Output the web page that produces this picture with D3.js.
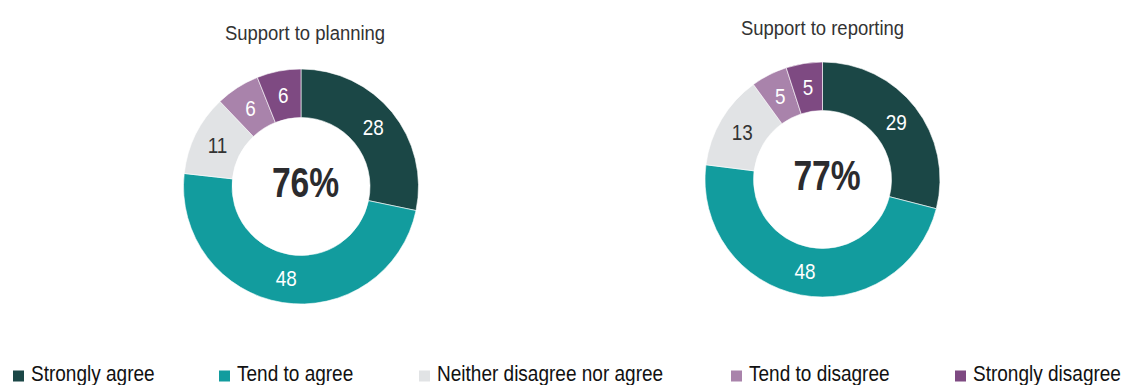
<!DOCTYPE html>
<html>
<head>
<meta charset="utf-8">
<script src="https://cdn.jsdelivr.net/npm/d3@7"></script>
<style>
  html, body { margin: 0; padding: 0; background: #fff; }
  svg text { font-family: "Liberation Sans Narrow", "Arial Narrow", "Liberation Sans", Arial, sans-serif; }
</style>
</head>
<body>
<svg id="chart" width="1121" height="385"></svg>
<script>
// Survey response categories, in drawing order (clockwise from 12 o'clock)
const categories = ["Strongly agree", "Tend to agree", "Neither disagree nor agree", "Tend to disagree", "Strongly disagree"];
const colors = ["#1b4746", "#129c9e", "#e1e3e5", "#a983ab", "#7e4a82"];
const labelColors = ["#ffffff", "#ffffff", "#333333", "#ffffff", "#ffffff"];

// Response shares (%) for each question
const planningValues = [28, 48, 11, 6, 6];
const reportingValues = [29, 48, 13, 5, 5];

const titles = ["Support to planning", "Support to reporting"];
const centerLabels = ["76%", "77%"];

const donuts = [
  { title: titles[0], values: planningValues, center: centerLabels[0], cx: 301, cy: 186.5, titleX: 305, titleY: 40 },
  { title: titles[1], values: reportingValues, center: centerLabels[1], cx: 822.5, cy: 179.5, titleX: 822.5, titleY: 34.5 }
];

const svg = d3.select("#chart");
const outerR = 117.5;
const innerR = 69;

// condensed look: squeeze glyphs horizontally around their anchor point
const squeeze = (x, y, sx) => `translate(${x},${y}) scale(${sx},1)`;

const pie = d3.pie().sort(null).value(d => d);
const arc = d3.arc().innerRadius(innerR).outerRadius(outerR);
const color = d3.scaleOrdinal().domain(categories).range(colors);
const labelColor = d3.scaleOrdinal().domain(categories).range(labelColors);

donuts.forEach(dn => {
  svg.append("text")
    .attr("transform", squeeze(dn.titleX, dn.titleY, 0.88))
    .attr("text-anchor", "middle")
    .attr("font-size", 21)
    .attr("fill", "#333")
    .text(dn.title);

  const g = svg.append("g").attr("transform", `translate(${dn.cx},${dn.cy})`);
  const arcs = pie(dn.values).map((a, i) => Object.assign(a, { cat: categories[i] }));

  g.selectAll("path")
    .data(arcs)
    .join("path")
    .attr("d", arc)
    .attr("fill", d => color(d.cat))
    .attr("stroke", "#fff")
    .attr("stroke-width", 0.6);

  g.selectAll("text.val")
    .data(arcs)
    .join("text")
    .attr("class", "val")
    .attr("transform", d => { const [x, y] = arc.centroid(d); return squeeze(x, y, 0.86); })
    .attr("text-anchor", "middle")
    .attr("dy", "0.35em")
    .attr("font-size", 22)
    .attr("fill", d => labelColor(d.cat))
    .text(d => d.data);

  g.append("text")
    .attr("transform", squeeze(4.5, -4, 0.8))
    .attr("text-anchor", "middle")
    .attr("dy", "0.35em")
    .attr("font-size", 42)
    .attr("font-weight", "bold")
    .attr("fill", "#2b2b2e")
    .text(dn.center);
});

// Legend along the bottom
const legendX = [13, 219, 419, 731, 955];
const legend = svg.append("g").selectAll("g")
  .data(categories)
  .join("g")
  .attr("transform", (d, i) => `translate(${legendX[i]},0)`);

legend.append("rect")
  .attr("x", 0)
  .attr("y", 370.5)
  .attr("width", 11)
  .attr("height", 11)
  .attr("fill", d => color(d));

legend.append("text")
  .attr("transform", squeeze(18, 380.5, 0.865))
  .attr("font-size", 22)
  .attr("fill", "#111")
  .text(d => d);
</script>
</body>
</html>
